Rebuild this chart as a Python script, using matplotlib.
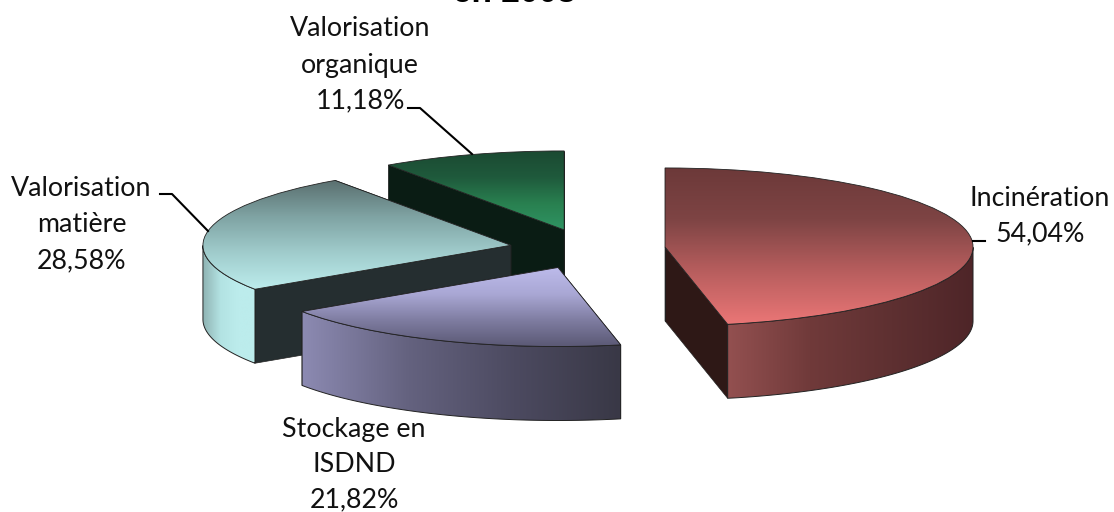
import numpy as np
import matplotlib
matplotlib.use('Agg')
import matplotlib.pyplot as plt
from matplotlib.colors import LinearSegmentedColormap
from matplotlib.lines import Line2D
from matplotlib.path import Path
from matplotlib.patches import PathPatch

labels = ['Incinération', 'Stockage en\nISDND', 'Valorisation\nmatière', 'Valorisation\norganique']
values = [54.04, 21.82, 28.58, 11.18]
pct_labels = ['54,04%', '21,82%', '28,58%', '11,18%']

top_colors = [['#6c3939', '#7e4444', '#b85e5e', '#ea7676'],
              ['#bcbaea', '#a9a7d4', '#7e7ca0', '#5a5874'],
              ['#5a6f6f', '#7fa3a3', '#a0cccc', '#bcecec'],
              ['#1b4a32', '#1f5a3c', '#298050', '#2f9463']]
side_colors = [['#935050', '#703a3a', '#5e3031', '#4e2528'],
               ['#8c8ab2', '#64627f', '#4c4a60', '#393846'],
               ['#8fb3b3', '#b3e3e3', '#bcecec', '#bcecec'],
               ['#2a7050', '#2a7050', '#2a7050', '#2a7050']]
cut_colors = ['#2e1816', '#3a3848', '#252e30', '#0a1c14']
explode = [0.253, 0.253, 0.253, 0.253]

W, H = 1114, 512
CX, CY, RX, RY = 587.5, 249, 308, 79
DEPTH = 74 / RY


def grad_fill(ax, clip, stops, vertical, zorder):
    box = clip.get_path().get_extents(clip.get_patch_transform())
    grad = np.linspace(0, 1, 256)
    grad = grad.reshape(-1, 1) if vertical else grad.reshape(1, -1)
    cmap = LinearSegmentedColormap.from_list('g', stops)
    im = ax.imshow(grad, extent=(box.x0, box.x1, box.y0, box.y1), cmap=cmap,
                   aspect='auto', origin='upper', zorder=zorder, interpolation='bilinear')
    im.set_clip_path(clip)


def extrude(xs, ys):
    vx = np.concatenate([xs, xs[::-1], xs[:1]])
    vy = np.concatenate([ys, ys[::-1] - DEPTH, ys[:1]])
    return Path(np.column_stack([vx, vy]), closed=True)


fig = plt.figure(figsize=(W / 100, H / 100), dpi=100)
ax = fig.add_axes([0, 0, 1, 1])

wedges, _ = ax.pie(values, explode=explode, startangle=90, counterclock=False,
                   colors=['none'] * 4, wedgeprops=dict(edgecolor='#222222', linewidth=0.6))

# back slices first so that the front ones cover them
order = [3, 2, 1, 0]
for n, i in enumerate(order):
    w = wedges[i]
    z = 2 + n * 5
    cx, cy = w.center
    for ang in (w.theta1, w.theta2):
        a = np.radians(ang)
        xs = np.array([cx, cx + np.cos(a)])
        ys = np.array([cy, cy + np.sin(a)])
        ax.add_patch(PathPatch(extrude(xs, ys), facecolor=cut_colors[i],
                               edgecolor='#222222', linewidth=0.5, zorder=z))

    # only the part of the rim facing the viewer
    t = np.radians(np.linspace(w.theta1, w.theta2, 400))
    t = t[np.sin(t) <= 0]
    if len(t) > 1:
        xs, ys = cx + np.cos(t), cy + np.sin(t)
        side = PathPatch(extrude(xs, ys), facecolor='none', edgecolor='#222222',
                         linewidth=0.7, zorder=z + 2)
        ax.add_patch(side)
        grad_fill(ax, side, side_colors[i], False, z + 1)

    w.set_zorder(z + 4)
    grad_fill(ax, w, top_colors[i], True, z + 3)

ax.set_aspect('auto')
ax.set_xlim((0 - CX) / RX, (W - CX) / RX)
ax.set_ylim((CY - H) / RY, CY / RY)
ax.axis('off')


def pos(x, y):
    return x / W, 1 - y / H


font = dict(family='Lato', fontsize=19.3, color='#111111', ha='center', va='center')
label_pos = {3: (360, 29, 36), 2: (81.5, 189, 36), 0: (1040, 198, 36), 1: (354, 430, 35)}
for i, (x, y, line_gap) in label_pos.items():
    rows = labels[i].split('\n') + [pct_labels[i]]
    for k, row in enumerate(rows):
        fig.text(*pos(x, y + k * line_gap), row, **font)

fig.text(*pos(514, 2.5), 'en 2008', family='Liberation Sans', fontweight='bold', fontsize=24,
         color='black', ha='center', va='baseline')

leaders = [([408, 420, 472], [108, 108, 154]),
           ([160, 172, 208], [194, 194, 231]),
           ([973, 985], [240.5, 240.5])]
for xs, ys in leaders:
    fx = [x / W for x in xs]
    fy = [1 - y / H for y in ys]
    fig.add_artist(Line2D(fx, fy, color='black', linewidth=1.5, transform=fig.transFigure))

fig.savefig('out.png', dpi=100)
